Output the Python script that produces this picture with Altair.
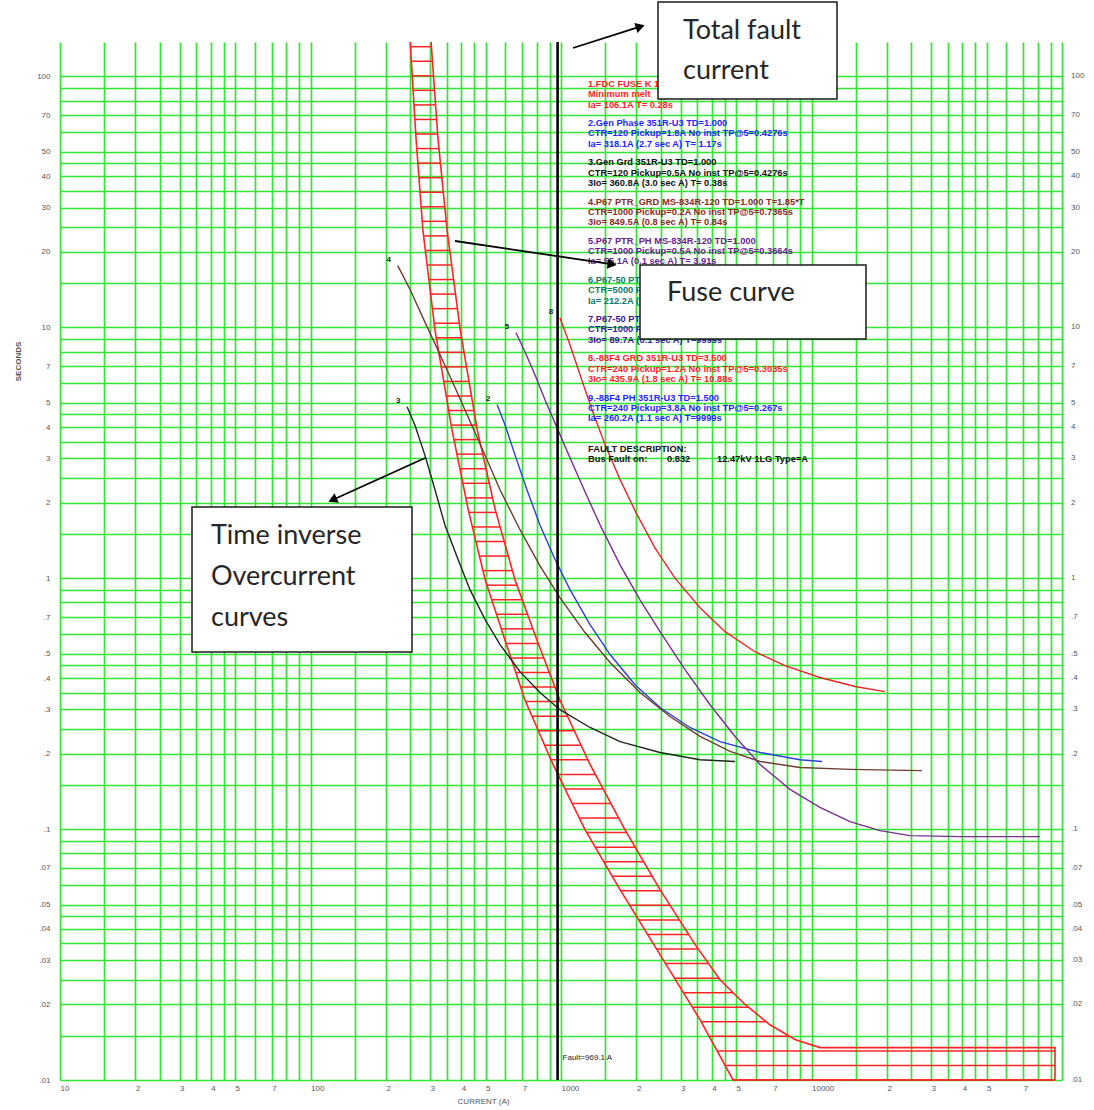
import json
import math
import numpy as np
import pandas as pd
import altair as alt

# ---------------- axes ----------------
X_DOMAIN = [10, 100000]
Y_DOMAIN = [0.01, 137]

grid_steps = [1, 1.5, 2, 2.5, 3, 3.5, 4, 4.5, 5, 6, 7, 8, 9]
label_steps = [1, 2, 3, 4, 5, 7]
x_decades = [10, 100, 1000, 10000]
y_decades = [0.01, 0.1, 1, 10, 100]

# ---------------- relay curves (current A, time s) ----------------
curve2_amps = [556, 598, 655, 731, 824, 946, 1086, 1306, 1570, 1974, 2485, 3272, 4313, 6229, 8990, 11020]
curve2_secs = [4.91, 4.08, 3.10, 2.25, 1.63, 1.19, 0.90, 0.653, 0.496, 0.376, 0.305, 0.254, 0.223, 0.202, 0.189, 0.186]

curve3_amps = [243, 261, 286, 314, 344, 388, 433, 498, 571, 686, 824, 990, 1306, 1721, 2485, 3589, 4953]
curve3_secs = [4.82, 4.08, 3.10, 2.25, 1.63, 1.19, 0.90, 0.684, 0.543, 0.424, 0.350, 0.299, 0.254, 0.223, 0.202, 0.189, 0.186]

curve4_amps = [223, 250, 286, 329, 378, 434, 498, 571, 686, 824, 990, 1247, 1570, 2067, 2723, 3589, 4731, 6229, 8990, 14250, 27600]
curve4_secs = [17.6, 14.1, 10.5, 7.77, 5.74, 4.20, 3.08, 2.25, 1.56, 1.12, 0.836, 0.607, 0.461, 0.350, 0.281, 0.234, 0.204, 0.186, 0.176, 0.173, 0.171]

curve5_amps = [661, 718, 787, 863, 964, 1086, 1247, 1432, 1721, 2067, 2485, 3126, 3936, 4953, 6229, 8203, 10810, 14250, 18770, 24720, 39170, 81650]
curve5_secs = [9.51, 7.98, 6.47, 5.14, 3.98, 3.02, 2.21, 1.63, 1.13, 0.820, 0.612, 0.432, 0.313, 0.234, 0.181, 0.144, 0.122, 0.107, 0.0986, 0.0942, 0.0933, 0.0933]

curve8_amps = [990, 1086, 1191, 1330, 1500, 1721, 2011, 2372, 2851, 3589, 4519, 5947, 7834, 10810, 14920, 19640]
curve8_secs = [10.9, 8.51, 6.47, 4.69, 3.40, 2.47, 1.79, 1.32, 1.00, 0.762, 0.612, 0.509, 0.448, 0.402, 0.370, 0.353]

curve_ids = ["2", "3", "4", "5", "8"]
curve_colors = ["#2a3fd6", "#1c261c", "#6e3b30", "#7a2f8f", "#e8262a"]

# ---------------- fuse band ----------------
melt_amps = [250, 264, 281, 314, 367, 426, 498, 598, 718, 929, 1247, 1721, 2485, 3589, 4861, 93760]
melt_secs = [137, 55.9, 24.4, 9.77, 3.91, 1.88, 0.986, 0.566, 0.327, 0.181, 0.0995, 0.0574, 0.0316, 0.0174, 0.01, 0.01]
clear_amps = [303, 323, 351, 396, 463, 546, 655, 802, 990, 1306, 1799, 2485, 3427, 4313, 5430, 6826, 8590, 10810, 93760, 93760]
clear_secs = [137, 55.9, 24.4, 9.77, 3.91, 1.88, 0.986, 0.566, 0.327, 0.181, 0.0995, 0.0574, 0.0347, 0.0251, 0.0200, 0.0166, 0.0145, 0.01346, 0.01346, 0.01]

fault_current = 969.1

# ---------------- device descriptions ----------------
legend_blocks = [
    ["1.FDC FUSE K 100 Total clear", "Minimum melt", "Ia= 106.1A T= 0.28s"],
    ["2.Gen Phase 351R-U3 TD=1.000", "CTR=120 Pickup=1.8A No inst TP@5=0.4276s", "Ia= 318.1A (2.7  sec A) T= 1.17s"],
    ["3.Gen Grd 351R-U3 TD=1.000", "CTR=120 Pickup=0.5A No inst TP@5=0.4276s", "3Io= 360.8A (3.0  sec A) T= 0.38s"],
    ["4.P67 PTR_GRD MS-834R-120 TD=1.000 T=1.85*T", "CTR=1000 Pickup=0.2A No inst TP@5=0.7365s", "3Io= 849.5A (0.8  sec A) T= 0.84s"],
    ["5.P67 PTR_PH MS-834R-120 TD=1.000", "CTR=1000 Pickup=0.5A No inst TP@5=0.3664s", "Ia= 55.1A (0.1  sec A) T= 3.91s"],
    ["6.P67-50 PTR_GRD MS-834R-120 TD=1.000", "CTR=5000 Pickup=0.2A No inst TP@5=0.3664s", "Ia= 212.2A (0.0  sec A) T=9999s"],
    ["7.P67-50 PTR_PH MS-834R-120 TD=1.000", "CTR=1000 Pickup=0.5A No inst TP@5=0.3664s", "3Io= 89.7A (0.1  sec A) T=9999s"],
    ["8.-88F4 GRD 351R-U3 TD=3.500", "CTR=240 Pickup=1.2A No inst TP@5=0.3035s", "3Io= 435.9A (1.8  sec A) T= 10.88s"],
    ["9.-88F4 PH 351R-U3 TD=1.500", "CTR=240 Pickup=3.8A No inst TP@5=0.267s", "Ia= 260.2A (1.1  sec A) T=9999s"],
]
legend_colors = ["#ff1f1f", "#1f1fff", "#111111", "#8a2a1e", "#6b1f8f", "#0f7a6a", "#3a1a9a", "#ff1f1f", "#1f1fff"]
fault_title = "FAULT DESCRIPTION:"
fault_parts = ["Bus Fault on:", "0.832", "12.47kV 1LG Type=A"]

callouts = [["Total fault", "current"], ["Fuse curve"], ["Time inverse", "Overcurrent", "curves"]]

# ---------------- layout (pixels, plot-area relative) ----------------
PLOT_W, PLOT_H = 1002, 1038
GRID = "#34e634"
SMALL_FONT = "Liberation Sans"
CALLOUT_FONT = "Lato"


def r6(v):
    return round(v, 6)


x_grid = [r6(m * d) for d in x_decades for m in grid_steps] + [100000]
y_grid = [r6(m * d) for d in y_decades for m in grid_steps if m * d <= Y_DOMAIN[1]]
x_major = x_decades
x_minor_lab = [r6(m * d) for d in x_decades for m in label_steps if m != 1]
y_lab = [r6(m * d) for d in y_decades for m in label_steps if m * d <= Y_DOMAIN[1]]

x_label_expr = (
    f"indexof({json.dumps(x_major)}, datum.value) >= 0 ? format(datum.value, 'd') : "
    f"(indexof({json.dumps(x_minor_lab)}, datum.value) >= 0 ? substring(format(datum.value, 'd'), 0, 1) : '')"
)
y_label_expr = (
    f"indexof({json.dumps(y_lab)}, datum.value) < 0 ? '' : "
    "(datum.value >= 1 ? format(datum.value, 'd') : replace(format(datum.value, '~g'), '0.', '.'))"
)

xscale = alt.Scale(type="log", domain=X_DOMAIN, nice=False)
yscale = alt.Scale(type="log", domain=Y_DOMAIN, nice=False)

xaxis = alt.Axis(
    values=x_grid, grid=True, gridColor=GRID, gridWidth=1.7, gridOpacity=1,
    ticks=False, domain=False, labelExpr=x_label_expr, labelAlign="left",
    labelBaseline="top", labelPadding=4, labelFontSize=8, labelColor="#555555",
    labelFont=SMALL_FONT, labelOverlap=False, labelFlush=False,
    title="CURRENT (A)", titleFont=SMALL_FONT, titleFontSize=8, titleFontWeight="normal",
    titleColor="#555555", titleX=423, titleY=21, titleAlign="center", titleBaseline="middle",
)
yaxis = alt.Axis(
    values=y_grid, grid=True, gridColor=GRID, gridWidth=1.7, gridOpacity=1,
    ticks=False, domain=False, labelExpr=y_label_expr, labelPadding=10,
    labelFontSize=8, labelColor="#555555", labelFont=SMALL_FONT, labelOverlap=False,
    labelFlush=False, labelBaseline="middle",
    title="SECONDS", titleFont=SMALL_FONT, titleFontSize=8, titleFontWeight="bold",
    titleColor="#555555", titleAngle=270, titleX=-42, titleY=319,
    titleAlign="center", titleBaseline="middle",
)


def X(field):
    return alt.X(f"{field}:Q", scale=xscale, axis=xaxis)


def Y(field):
    return alt.Y(f"{field}:Q", scale=yscale, axis=yaxis)


# ---------------- tables ----------------
curve_series = [
    (curve2_amps, curve2_secs), (curve3_amps, curve3_secs), (curve4_amps, curve4_secs),
    (curve5_amps, curve5_secs), (curve8_amps, curve8_secs),
]
rows = []
for cid, (amps, secs) in zip(curve_ids, curve_series):
    for k, (a, s) in enumerate(zip(amps, secs)):
        rows.append({"curve": cid, "amps": a, "secs": s, "idx": k})
curves_df = pd.DataFrame(rows)
curve_start_df = curves_df[curves_df["idx"] == 0].copy()

fuse_rows = []
for name, amps, secs in [("melt", melt_amps, melt_secs), ("clear", clear_amps, clear_secs)]:
    for k, (a, s) in enumerate(zip(amps, secs)):
        fuse_rows.append({"edge": name, "amps": a, "secs": s, "idx": k})
fuse_df = pd.DataFrame(fuse_rows)

# hatching across the fuse band, evenly spaced on the log time axis
melt_lt = np.log10(melt_secs[:-1])[::-1]
melt_la = np.log10(melt_amps[:-1])[::-1]
clear_lt = np.log10(clear_secs[:-2])[::-1]
clear_la = np.log10(clear_amps[:-2])[::-1]
flat_level = clear_secs[-3]
hatch_t = np.arange(np.log10(Y_DOMAIN[0]), np.log10(Y_DOMAIN[1]), 0.058)
hatch_left = 10 ** np.interp(hatch_t, melt_lt, melt_la)
hatch_right = np.where(10 ** hatch_t < flat_level, clear_amps[-1], 10 ** np.interp(hatch_t, clear_lt, clear_la))
hatch_df = pd.DataFrame({"secs": 10 ** hatch_t, "amps": hatch_left, "amps2": hatch_right})


def fmt_sec(v):
    return str(int(round(v))) if v >= 1 else ("%g" % v).replace("0.", ".", 1)


right_labels_df = pd.DataFrame({"secs": y_lab, "label": [fmt_sec(v) for v in y_lab]})

# ---------------- layers ----------------
curves = alt.Chart(curves_df).mark_line(strokeWidth=1.4).encode(
    x=X("amps"), y=Y("secs"),
    color=alt.Color("curve:N", scale=alt.Scale(domain=curve_ids, range=curve_colors), legend=None),
    order=alt.Order("idx:Q"),
)

curve_nums = alt.Chart(curve_start_df).mark_text(
    dx=-9, dy=-6, fontSize=8, fontWeight="bold", font=SMALL_FONT, color="#222222"
).encode(x=X("amps"), y=Y("secs"), text="curve:N")

fuse_edges = alt.Chart(fuse_df).mark_line(strokeWidth=1.6, color="#ff2323").encode(
    x=X("amps"), y=Y("secs"), detail="edge:N", order=alt.Order("idx:Q")
)

hatch = alt.Chart(hatch_df).mark_rule(strokeWidth=1.5, color="#ff2323").encode(
    x=X("amps"), x2=alt.X2("amps2"), y=Y("secs")
)

fault_line = alt.Chart(pd.DataFrame({"amps": [fault_current]})).mark_rule(
    color="black", strokeWidth=2.6
).encode(x=X("amps"))

fault_text = alt.Chart(pd.DataFrame({"amps": [fault_current], "label": [f"Fault={fault_current} A"]})).mark_text(
    align="left", baseline="middle", dx=5, fontSize=8, font=SMALL_FONT, color="#222222"
).encode(x=X("amps"), y=alt.value(1016), text="label:N")

right_labels = alt.Chart(right_labels_df).mark_text(
    align="left", baseline="middle", fontSize=8, font=SMALL_FONT, color="#555555"
).encode(x=alt.value(PLOT_W + 9), y=Y("secs"), text="label:N")

one = pd.DataFrame({"k": [0]})
TXT = dict(align="left", baseline="top", fontSize=9.3, fontWeight="bold", font=SMALL_FONT)
legend_layers = []
for i, (lines, col) in enumerate(zip(legend_blocks, legend_colors)):
    legend_layers.append(
        alt.Chart(pd.DataFrame({"text": ["\n".join(lines)]})).mark_text(
            lineBreak="\n", lineHeight=10.3, color=col, **TXT
        ).encode(x=alt.value(528), y=alt.value(38 + 39.2 * i), text="text:N")
    )
fault_desc_layers = [
    alt.Chart(pd.DataFrame({"text": [fault_title]})).mark_text(color="#111111", **TXT).encode(
        x=alt.value(528), y=alt.value(403), text="text:N"
    )
]
for part, xo in zip(fault_parts, [528, 607, 657]):
    fault_desc_layers.append(
        alt.Chart(pd.DataFrame({"text": [part]})).mark_text(color="#111111", **TXT).encode(
            x=alt.value(xo), y=alt.value(413.3), text="text:N"
        )
    )

# callout boxes: (x0, y0, x1, y1, text x, first line y, line step)
box_geom = [
    (598, -40, 777, 57, 623, -11, 40),
    (580, 223, 806, 297, 607, 251, 40),
    (132, 465, 352, 610, 151, 494, 41),
]
callout_layers = []
for (x0, y0, x1, y1, tx, ty, step), lines in zip(box_geom, callouts):
    callout_layers.append(
        alt.Chart(one).mark_rect(fill="white", stroke="#1a1a1a", strokeWidth=1.5).encode(
            x=alt.value(x0), x2=alt.value(x1), y=alt.value(y0), y2=alt.value(y1)
        )
    )
    for j, line in enumerate(lines):
        callout_layers.append(
            alt.Chart(pd.DataFrame({"text": [line]})).mark_text(
                align="left", baseline="middle", fontSize=27, font=CALLOUT_FONT, color="#262626"
            ).encode(x=alt.value(tx), y=alt.value(ty + step * j), text="text:N")
        )

# arrows from the chart features to the callouts
arrow_geom = [((513, 6), (585, -17)), ((395, 199), (557, 223)), ((365, 416), (268, 460))]
arrow_layers = []
for (xa, ya), (xb, yb) in arrow_geom:
    dx, dy = xb - xa, yb - ya
    length = math.hypot(dx, dy)
    ux, uy = dx / length, dy / length
    ang = math.degrees(math.atan2(dx, -dy)) % 360
    arrow_layers.append(
        alt.Chart(one).mark_rule(color="black", strokeWidth=1.8).encode(
            x=alt.value(xa), y=alt.value(ya), x2=alt.value(xb - 6 * ux), y2=alt.value(yb - 6 * uy)
        )
    )
    arrow_layers.append(
        alt.Chart(one).mark_point(shape="triangle-up", filled=True, size=110, angle=ang,
                                  color="black", opacity=1).encode(
            x=alt.value(xb - 5 * ux), y=alt.value(yb - 5 * uy)
        )
    )

chart = alt.layer(
    hatch, fuse_edges, curves, curve_nums, fault_line, fault_text, right_labels,
    *legend_layers, *fault_desc_layers, *callout_layers, *arrow_layers,
).properties(
    width=PLOT_W, height=PLOT_H,
    autosize=alt.AutoSizeParams(type="none"),
    padding={"left": 60, "top": 42, "right": 32, "bottom": 30},
    background="white",
).configure_view(stroke=None)

chart.save("out.html", embed_options={"renderer": "svg", "actions": False})
